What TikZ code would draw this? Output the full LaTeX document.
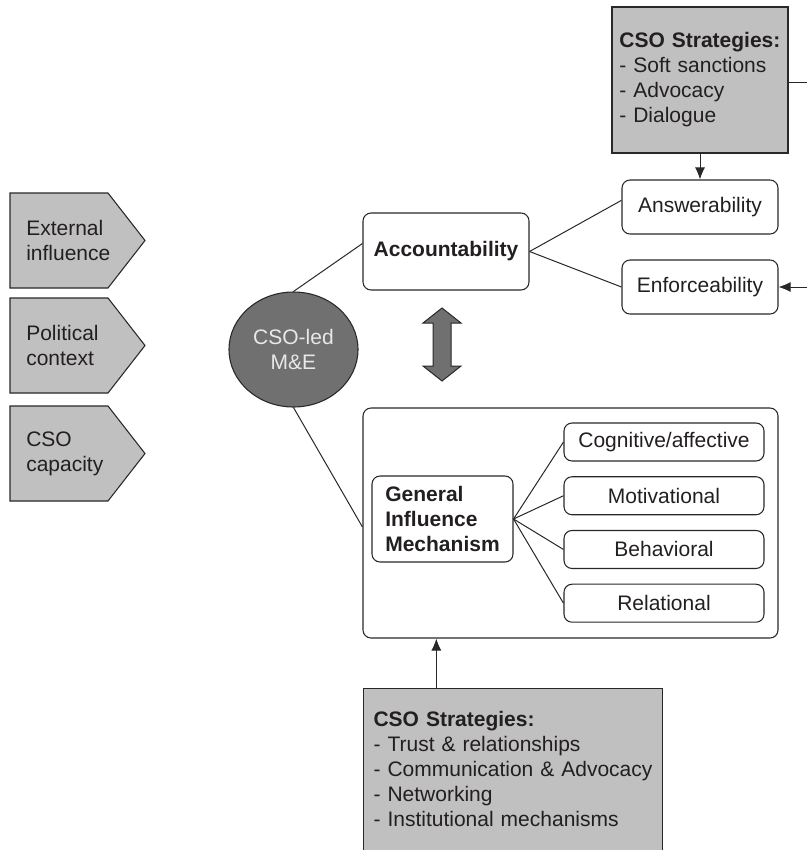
\documentclass[tikz,border=0pt]{standalone}
\usepackage{fontspec}
\setmainfont{Liberation Sans}
\usepackage{xcolor}
\usepackage{tikz}
\usetikzlibrary{arrows.meta,positioning,shapes.geometric,calc}
\definecolor{boxgray}{RGB}{192,192,192}
\definecolor{darkfill}{RGB}{112,112,112}
\definecolor{linegray}{RGB}{40,40,40}
\definecolor{textgray}{RGB}{35,31,32}
\definecolor{paletext}{RGB}{232,232,232}
\newcommand{\figfont}{\fontsize{15.75}{18.75}\selectfont}
\tikzset{
  rbox/.style={draw=linegray, rounded corners=6pt, align=center, inner sep=0pt, line width=0.8pt},
  subbox/.style={rbox, minimum width=150pt, minimum height=28.5pt},
  stratbox/.style={draw=linegray, fill=boxgray, align=left, inner xsep=5.5pt, line width=0.8pt},
  factor/.style={align=left, inner sep=0pt, anchor=west},
  shapebox/.style={draw=linegray, fill=boxgray, line width=0.8pt},
  line/.style={draw=linegray, line width=0.75pt},
  arr/.style={-{Latex[length=9pt,width=7.5pt]}, draw=linegray, line width=0.75pt}
}

\begin{document}
\begin{tikzpicture}[x=0.75pt, y=-0.75pt, every node/.append style={font=\figfont, text=textgray}]
  \useasboundingbox (0,0) rectangle (807,850);
  \clip (0,0) rectangle (807,850);

  % context factors
  \foreach \y/\txt [count=\i] in {193/{External\\influence}, 298/{Political\\context}, 406/{CSO\\capacity}} {
    \draw[shapebox] (10,\y) -- (108,\y) -- (145,\y+47.5) -- (108,\y+95) -- (10,\y+95) -- cycle;
    \node[factor] (f\i) at (26,\y+47.5) {\txt};
  }

  \node[ellipse, draw=linegray, fill=darkfill, line width=0.8pt, minimum width=96.75pt, minimum height=86.25pt,
        inner sep=0pt, align=center, text=paletext] (cso) at (293.5,349.5) {CSO-led\\M\&E};

  \node[rbox, minimum width=124.5pt, minimum height=57.75pt, font=\figfont\bfseries] (acc) at (446,251.5) {Accountability};
  \node[rbox, minimum width=117pt, minimum height=40.5pt] (ans) at (700,207) {Answerability};
  \node[rbox, minimum width=117pt, minimum height=40.5pt] (enf) at (700,287) {Enforceability};

  \node[stratbox, text width=121pt, minimum height=109.5pt] (topstrat) at (700,80)
    {\mbox{\textbf{CSO Strategies:}}\\- Soft sanctions\\- Advocacy\\- Dialogue};

  \node[rbox, minimum width=311.25pt, minimum height=172.5pt] (infl) at (570.5,523) {};
  \node[rbox, minimum width=105.75pt, minimum height=64.5pt, align=left, font=\figfont\bfseries] (gim) at (442.5,519)
    {General\\Influence\\Mechanism};
  \node[subbox] (cog) at (664,442) {Cognitive/affective};
  \node[subbox, below=11pt of cog] (mot) {Motivational};
  \node[subbox, below=11pt of mot] (beh) {Behavioral};
  \node[subbox, below=11pt of beh] (rel) {Relational};

  \node[stratbox, anchor=north west, text width=209.25pt, inner xsep=7.5pt, inner ysep=8.5pt,
        text height=20pt, text depth=110pt] (botstrat) at (363,688)
    {\textbf{CSO Strategies:}\\- Trust \& relationships\\- Communication \& Advocacy\\- Networking\\- Institutional mechanisms};

  % two-way link
  \draw[line, fill=darkfill] (442,308) -- (461,323) -- (451,323) -- (451,366) -- (461,366) -- (442,381)
    -- (423,366) -- (433,366) -- (433,323) -- (423,323) -- cycle;

  \draw[line] (cso.north) -- ([yshift=6pt]acc.west);
  \draw[line] (cso.south) -- ([yshift=-3pt]infl.west);
  \draw[line] (acc.east) -- ([yshift=5pt]ans.west);
  \draw[line] (acc.east) -- (enf.west);
  \foreach \n in {cog,mot,beh,rel}
    \draw[line] (gim.east) -- (\n.west);

  \draw[arr] (topstrat.south) -- (ans.north);
  \draw[arr] ([yshift=-2pt]topstrat.east) -- ++(40,0) |- (enf.east);
  \draw[arr] ([xshift=55pt]botstrat.north west) coordinate (b) -- (b |- infl.south);
\end{tikzpicture}
\end{document}
